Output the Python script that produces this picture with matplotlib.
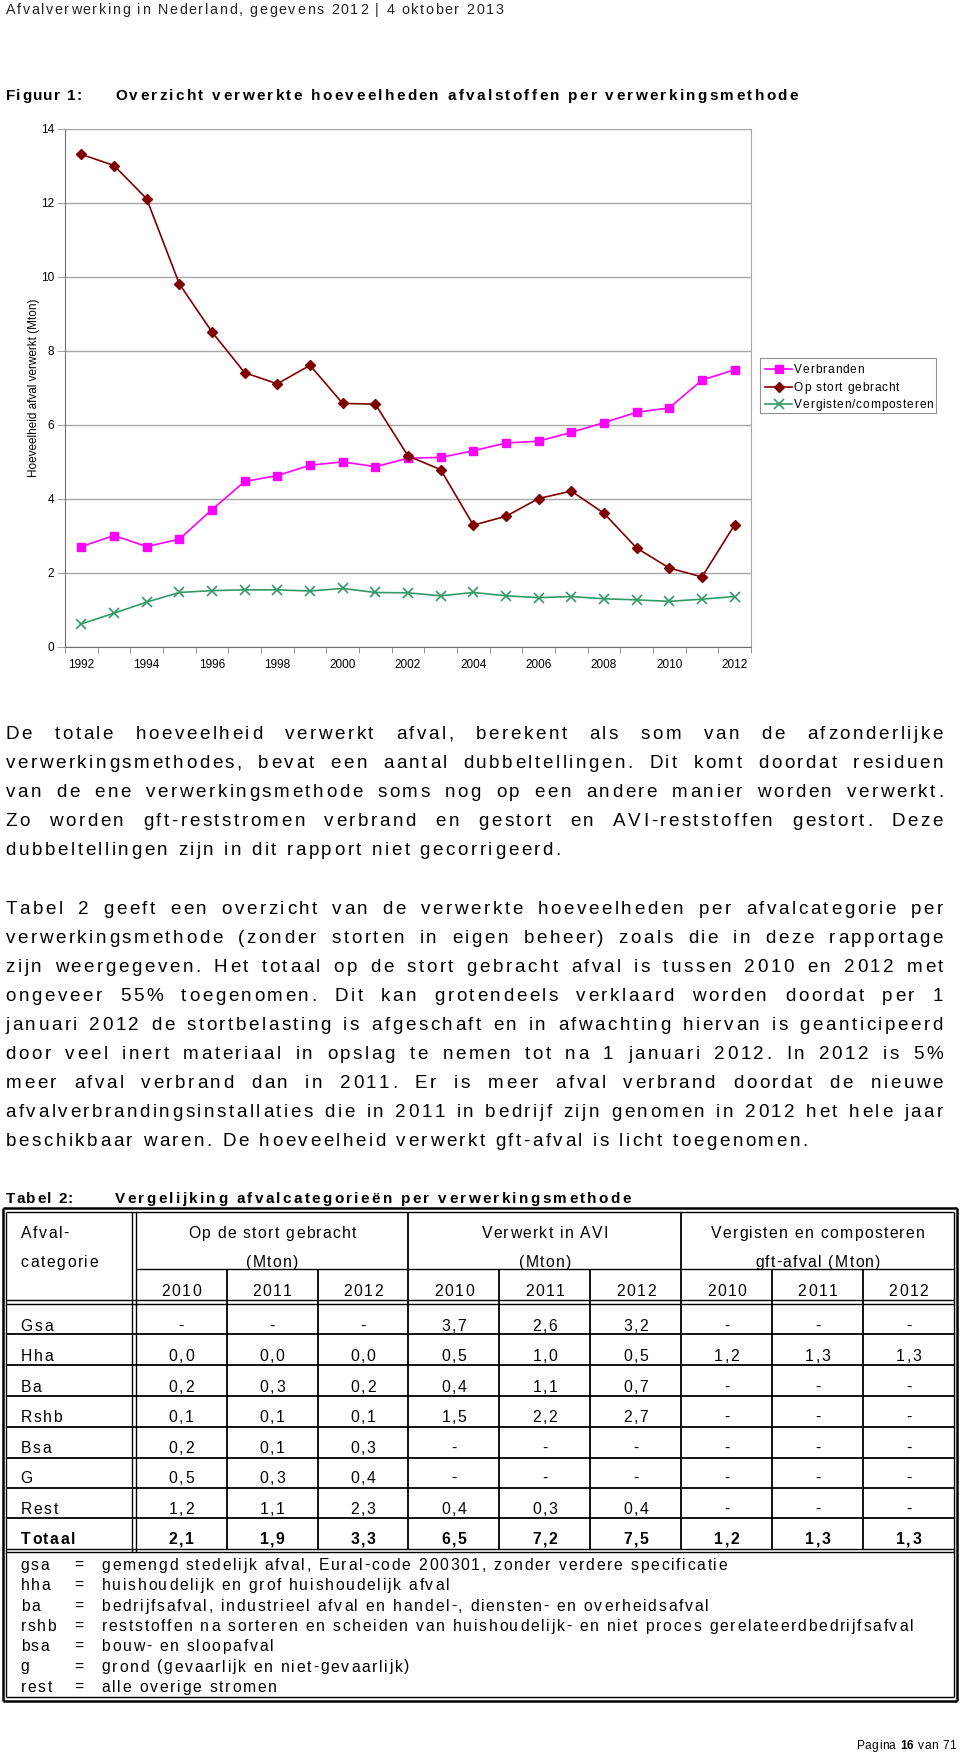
import numpy as np
import matplotlib
matplotlib.use('Agg')
import matplotlib.pyplot as plt
from matplotlib.font_manager import FontProperties, findfont
from matplotlib.ft2font import FT2Font
from matplotlib.patches import Rectangle

W, H, DPI = 960, 1754, 100
FAM = 'Liberation Sans'

# ---------------- data ----------------
years = [str(y) for y in range(1992, 2013)]
verbranden = [2.7, 3.0, 2.7, 2.9, 3.7, 4.46, 4.62, 4.9, 4.99, 4.86, 5.09,
              5.11, 5.29, 5.5, 5.55, 5.79, 6.05, 6.33, 6.45, 7.2, 7.48]
op_stort = [13.3, 13.0, 12.1, 9.8, 8.5, 7.4, 7.1, 7.6, 6.57, 6.55, 5.15,
            4.78, 3.28, 3.52, 4.0, 4.2, 3.6, 2.66, 2.12, 1.88, 3.29]
vergisten = [0.61, 0.90, 1.20, 1.46, 1.51, 1.53, 1.53, 1.50, 1.57, 1.46, 1.45,
             1.37, 1.46, 1.37, 1.32, 1.35, 1.29, 1.26, 1.22, 1.28, 1.35]
series_labels = ['Verbranden', 'Op stort gebracht', 'Vergisten/composteren']
y_ticks = [0, 2, 4, 6, 8, 10, 12, 14]

table_groups = ['Op de stort gebracht', 'Verwerkt in AVI', 'Vergisten en composteren']
table_units = ['(Mton)', '(Mton)', 'gft-afval (Mton)']
table_years = ['2010', '2011', '2012']
table_cats = ['Gsa', 'Hha', 'Ba', 'Rshb', 'Bsa', 'G', 'Rest']
table_stort = [['-', '-', '-'], ['0,0', '0,0', '0,0'], ['0,2', '0,3', '0,2'],
               ['0,1', '0,1', '0,1'], ['0,2', '0,1', '0,3'], ['0,5', '0,3', '0,4'],
               ['1,2', '1,1', '2,3']]
table_avi = [['3,7', '2,6', '3,2'], ['0,5', '1,0', '0,5'], ['0,4', '1,1', '0,7'],
             ['1,5', '2,2', '2,7'], ['-', '-', '-'], ['-', '-', '-'],
             ['0,4', '0,3', '0,4']]
table_gft = [['-', '-', '-'], ['1,2', '1,3', '1,3'], ['-', '-', '-'],
             ['-', '-', '-'], ['-', '-', '-'], ['-', '-', '-'], ['-', '-', '-']]
total_label = 'Totaal'
total_stort = ['2,1', '1,9', '3,3']
total_avi = ['6,5', '7,2', '7,5']
total_gft = ['1,2', '1,3', '1,3']
abbr_keys = ['gsa', 'hha', 'ba', 'rshb', 'bsa', 'g', 'rest']
abbr_desc = ['gemengd stedelijk afval, Eural-code 200301, zonder verdere specificatie',
             'huishoudelijk en grof huishoudelijk afval',
             'bedrijfsafval, industrieel afval en handel-, diensten- en overheidsafval',
             'reststoffen na sorteren en scheiden van huishoudelijk- en niet proces gerelateerdbedrijfsafval',
             'bouw- en sloopafval',
             'grond (gevaarlijk en niet-gevaarlijk)',
             'alle overige stromen']

header_text = 'Afvalverwerking in Nederland, gegevens 2012 | 4 oktober 2013'
fig_label = 'Figuur 1:'
fig_title = 'Overzicht verwerkte hoeveelheden afvalstoffen per verwerkingsmethode'
tab_label = 'Tabel 2:'
tab_title = 'Vergelijking afvalcategorieën per verwerkingsmethode'
para1 = ['De totale hoeveelheid verwerkt afval, berekent als som van de afzonderlijke',
         'verwerkingsmethodes, bevat een aantal dubbeltellingen. Dit komt doordat residuen',
         'van de ene verwerkingsmethode soms nog op een andere manier worden verwerkt.',
         'Zo worden gft-reststromen verbrand en gestort en AVI-reststoffen gestort. Deze',
         'dubbeltellingen zijn in dit rapport niet gecorrigeerd.']
para2 = ['Tabel 2 geeft een overzicht van de verwerkte hoeveelheden per afvalcategorie per',
         'verwerkingsmethode (zonder storten in eigen beheer) zoals die in deze rapportage',
         'zijn weergegeven. Het totaal op de stort gebracht afval is tussen 2010 en 2012 met',
         'ongeveer 55% toegenomen. Dit kan grotendeels verklaard worden doordat per 1',
         'januari 2012 de stortbelasting is afgeschaft en in afwachting hiervan is geanticipeerd',
         'door veel inert materiaal in opslag te nemen tot na 1 januari 2012. In 2012 is 5%',
         'meer afval verbrand dan in 2011. Er is meer afval verbrand doordat de nieuwe',
         'afvalverbrandingsinstallaties die in 2011 in bedrijf zijn genomen in 2012 het hele jaar',
         'beschikbaar waren. De hoeveelheid verwerkt gft-afval is licht toegenomen.']
footer_parts = [('Pagina ', 'normal'), ('16', 'bold'), (' van 71', 'normal')]

# ---------------- page ----------------
fig = plt.figure(figsize=(W / DPI, H / DPI), dpi=DPI)
page = fig.add_axes([0, 0, 1, 1])
page.set_xlim(0, W)
page.set_ylim(H, 0)
page.axis('off')

_fonts = {}


def _font(weight):
    if weight not in _fonts:
        _fonts[weight] = FT2Font(findfont(FontProperties(family=FAM, weight=weight)))
    return _fonts[weight]


def advances(s, size, weight):
    f = _font(weight)
    f.set_size(size, DPI)
    return [f.load_char(ord(c)).linearHoriAdvance / 65536.0 for c in s]


def width(s, size, weight='normal', track=0.0):
    return sum(advances(s, size, weight)) + track * max(len(s) - 1, 0)


def draw(x, y, s, size, weight='normal', track=0.0, ha='left', justify=None, color='black'):
    adv = advances(s, size, weight)
    gsum = sum(adv)
    n = len(s)
    extra = 0.0
    if justify is not None:
        ns = s.count(' ')
        avail = justify - x - gsum
        if avail < track * (n - 1):
            track = max(avail / (n - 1), 0.0)
        if ns:
            extra = (avail - track * (n - 1)) / ns
    total = gsum + track * max(n - 1, 0)
    if ha == 'center':
        x -= total / 2
    elif ha == 'right':
        x -= total
    for c, a in zip(s, adv):
        if c != ' ':
            page.text(x, y, c, fontsize=size, family=FAM, weight=weight,
                      ha='left', va='baseline', color=color)
        x += a + track + (extra if c == ' ' else 0.0)
    return x


# header
draw(5.6, 14, header_text, 10.3, track=1.7, color='#222222')
draw(5.6, 100, fig_label, 11, weight='bold', track=1.4)
draw(115, 100, fig_title, 11, weight='bold', track=2.35)

# ---------------- chart ----------------
L, R, T, B = 65, 751, 128.5, 646.5
ax = fig.add_axes([L / W, 1 - B / H, (R - L) / W, (B - T) / H])
x = np.arange(len(years))
styles = [dict(color='#FF00FF', marker='s', markersize=6, lw=1.2),
          dict(color='#800000', marker='D', markersize=5, lw=1.2),
          dict(color='#339966', marker='x', markersize=7, mew=1.2, lw=1.2)]
ax.plot(x, verbranden, zorder=3, **styles[0])
ax.plot(x, op_stort, zorder=4, **styles[1])
ax.plot(x, vergisten, zorder=3, **styles[2])
ax.set_xlim(-0.5, len(years) - 0.5)
ax.set_ylim(0, 14)
ax.set_yticks(y_ticks)
ax.set_yticklabels([str(v) for v in y_ticks], fontsize=8.5, family=FAM)
ax.yaxis.grid(True, color='#a8a8a8', lw=1.0)
ax.set_axisbelow(True)
ax.set_xticks(x[::2])
ax.set_xticklabels(years[::2], fontsize=8.5, family=FAM)
ax.set_xticks(np.arange(-0.5, len(years), 1.0), minor=True)
ax.tick_params(axis='x', which='major', length=0, pad=9)
ax.tick_params(axis='x', which='minor', length=4, color='#808080', direction='out')
ax.tick_params(axis='y', length=6, color='#a8a8a8', pad=2)
for sp in ['left', 'bottom']:
    ax.spines[sp].set_color('#707070')
for sp in ['top', 'right']:
    ax.spines[sp].set_color('#a8a8a8')
ax.set_ylabel('Hoeveelheid afval verwerkt (Mton)', fontsize=8.5, family=FAM)
ax.yaxis.set_label_coords((40 - L) / (R - L), 0.5)

# legend (drawn on page, with letter spacing like the original)
page.add_patch(Rectangle((760, 358), 175.7, 55, fill=False, edgecolor='#909090', lw=0.8))
for i, (lab, st) in enumerate(zip(series_labels, styles)):
    yy = 369 + i * 17.5
    page.plot([765, 792], [yy, yy], color=st['color'], lw=st['lw'])
    page.plot([778.5], [yy], linestyle='none', **{k: v for k, v in st.items() if k != 'lw'})
    draw(794, yy + 4.2, lab, 8.6, track=0.85)

# ---------------- paragraphs ----------------
PS, PT = 13.6, 2.5
PL, PR = 5.6, 943
for i, line in enumerate(para1):
    last = i == len(para1) - 1
    draw(PL, 739.3 + i * 28.9, line, PS, track=PT, justify=None if last else PR)
for i, line in enumerate(para2):
    last = i == len(para2) - 1
    draw(PL, 914.3 + i * 28.9, line, PS, track=PT, justify=None if last else PR)

# ---------------- table ----------------
draw(5.6, 1203, tab_label, 11, weight='bold', track=1.4)
draw(115, 1203, tab_title, 11, weight='bold', track=2.35)

TS, TT = 11.3, 1.6
OL, OR_, OT, OB = 2.7, 957.3, 1208.3, 1700.7
IL, IR, IT, IB = 6.0, 954.0, 1211.7, 1697.3
CS1, CS2 = 132.3, 135.7
cw = (IR - CS2) / 9


def hl(y, x0, x1, lw=1.2):
    page.plot([x0, x1], [y, y], color='black', lw=lw, solid_capstyle='butt')


def vl(xx, y0, y1, lw=1.2):
    page.plot([xx, xx], [y0, y1], color='black', lw=lw, solid_capstyle='butt')


hl(OT, OL, OR_, 1.8); hl(OB, OL, OR_, 1.8)
vl(OL, OT, OB, 1.8); vl(OR_, OT, OB, 1.8)
hl(IT, IL, IR, 1.0); hl(IB, IL, IR, 1.0)
vl(IL, IT, IB, 1.0); vl(IR, IT, IB, 1.0)

row_lines = [1334, 1365, 1395.7, 1426.7, 1457.7, 1488, 1518.3]
HD1, HD2 = 1300.3, 1303.7
TD1, TD2 = 1549.3, 1552.3
vl(CS1, IT, TD2, 1.0); vl(CS2, IT, TD2, 1.0)
hl(1269, CS2, IR, 1.0)
hl(HD1, IL, IR, 1.0); hl(HD2, IL, IR, 1.0)
for y in row_lines:
    hl(y, IL, IR, 1.3)
hl(TD1, IL, IR, 1.0); hl(TD2, IL, IR, 1.0)
for k in range(1, 9):
    xk = CS2 + k * cw
    if k % 3 == 0:
        vl(xk, IT, TD1, 1.3)
    else:
        vl(xk, 1269, TD1, 1.3)

draw(20.7, 1238.3, 'Afval-', TS, track=TT)
draw(20.7, 1266.7, 'categorie', TS, track=TT)
for g in range(3):
    gc = CS2 + (3 * g + 1.5) * cw
    draw(gc, 1238.3, table_groups[g], TS, track=1.3, ha='center')
    draw(gc, 1266.7, table_units[g], TS, track=1.3, ha='center')
    for j in range(3):
        draw(CS2 + (3 * g + j + 0.5) * cw, 1296, table_years[j], TS, track=TT, ha='center')

row_base = [1330.7, 1361.2, 1391.7, 1422.2, 1452.7, 1483.2, 1513.7]
for i, cat in enumerate(table_cats):
    yb = row_base[i]
    draw(20.7, yb, cat, TS, track=TT)
    vals = table_stort[i] + table_avi[i] + table_gft[i]
    for k, v in enumerate(vals):
        draw(CS2 + (k + 0.5) * cw, yb, v, TS, track=TT, ha='center')
yb = 1544.2
draw(20.7, yb, total_label, TS, weight='bold', track=TT)
for k, v in enumerate(total_stort + total_avi + total_gft):
    draw(CS2 + (k + 0.5) * cw, yb, v, TS, weight='bold', track=TT, ha='center')

for i, (k, d) in enumerate(zip(abbr_keys, abbr_desc)):
    yb = 1570 + i * 20.3
    draw(20.7, yb, k, TS, track=TT)
    draw(79.3, yb, '=', TS, ha='center')
    draw(101.5, yb, d, TS, track=1.75)

# footer
FS, FT = 8.6, 0.4
tot = sum(width(s, FS, w, FT) + FT for s, w in footer_parts) - FT
xs = 955 - tot
for s, w in footer_parts:
    xs = draw(xs, 1749, s, FS, weight=w, track=FT) + FT

fig.savefig('out.png', dpi=DPI)
